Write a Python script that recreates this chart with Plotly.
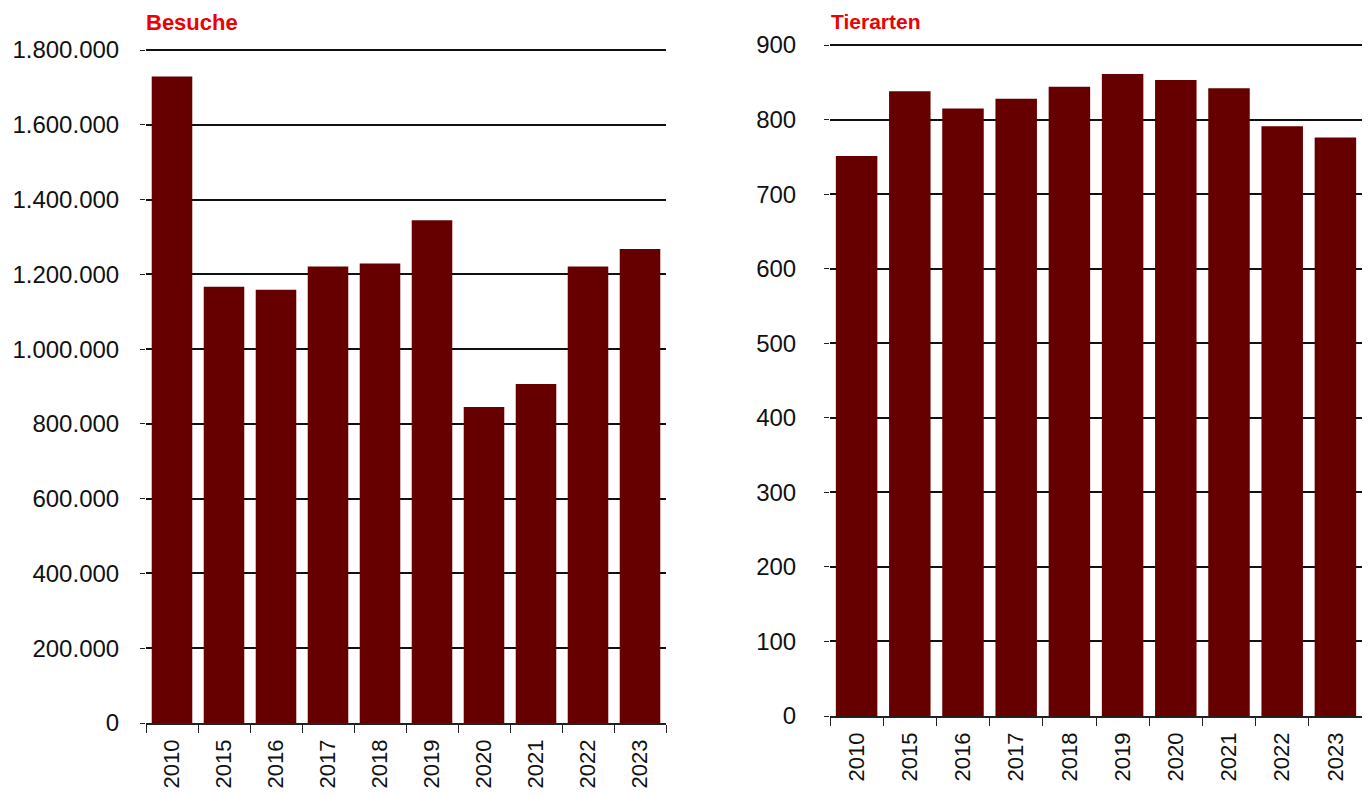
import plotly.graph_objects as go

# Data
years = ["2010", "2015", "2016", "2017", "2018", "2019", "2020", "2021", "2022", "2023"]
besuche = [1729000, 1167000, 1159000, 1221000, 1229000, 1345000, 845000, 907000, 1221000, 1268000]
tierarten = [751, 838, 815, 828, 844, 861, 853, 842, 791, 776]

# the page body adds an 8px margin, so the figure is drawn 8px in
OFF = 8
W, H = 1370 - 2 * OFF, 797 - 2 * OFF
bar_color = "#660000"
ytick_font = dict(family="Liberation Sans, Arial", size=24, color="#111111")
xtick_font = dict(family="Liberation Sans, Arial", size=22, color="#111111")
# a little headroom so the top gridline (1.800.000 / 900) is still drawn
PAD = 1.003


def px(x):
    return min(1.0, (x - OFF) / W)


def py(y):
    return 1 - (y - OFF) / H


fig = go.Figure()

fig.add_trace(go.Bar(x=years, y=besuche, marker_color=bar_color,
                     marker_line_width=0, xaxis="x", yaxis="y"))
fig.add_trace(go.Bar(x=years, y=tierarten, marker_color=bar_color,
                     marker_line_width=0, xaxis="x2", yaxis="y2"))

xaxis_common = dict(
    type="category",
    tickson="boundaries",
    ticks="outside",
    ticklen=8,
    tickwidth=1.3,
    tickcolor="#222222",
    showline=True,
    linecolor="#222222",
    linewidth=1.5,
    showgrid=False,
    tickangle=-90,
    tickfont=xtick_font,
    ticklabelstandoff=6,
    automargin=False,
    fixedrange=True,
)
yaxis_common = dict(
    showgrid=True,
    gridcolor="#111111",
    gridwidth=1.5,
    zeroline=False,
    showline=False,
    ticks="outside",
    ticklen=5,
    tickcolor="#222222",
    tickfont=ytick_font,
    automargin=False,
    fixedrange=True,
)

fig.update_layout(
    width=W,
    height=H,
    margin=dict(l=0, r=0, t=0, b=0),
    plot_bgcolor="white",
    paper_bgcolor="white",
    showlegend=False,
    bargap=0.22,
    separators=",.",
    xaxis=dict(xaxis_common, domain=[px(146), px(666)], anchor="y"),
    yaxis=dict(yaxis_common, domain=[py(723), py(48)], anchor="x",
               range=[0, 1800000 * PAD], dtick=200000, tickformat=",d",
               ticklabelstandoff=16),
    xaxis2=dict(xaxis_common, domain=[px(830), px(1363)], anchor="y2"),
    yaxis2=dict(yaxis_common, domain=[py(716), py(43)], anchor="x2",
                range=[0, 900 * PAD], dtick=100, ticklabelstandoff=23),
)

fig.add_annotation(text="<b>Besuche</b>", xref="paper", yref="paper",
                   x=px(144), y=py(23), xanchor="left", yanchor="middle",
                   showarrow=False,
                   font=dict(family="Liberation Sans, Arial", size=22, color="#ee0000"))
fig.add_annotation(text="<b>Tierarten</b>", xref="paper", yref="paper",
                   x=px(829), y=py(21), xanchor="left", yanchor="middle",
                   showarrow=False,
                   font=dict(family="Liberation Sans, Arial", size=21, color="#ee0000"))

fig.write_html("out.html")
